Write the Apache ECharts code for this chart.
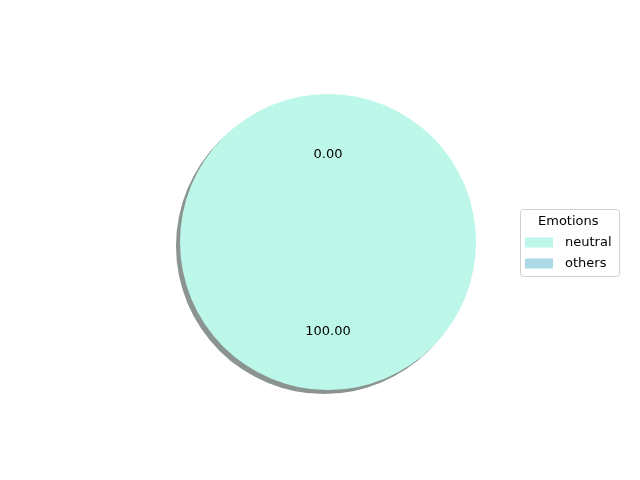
<!DOCTYPE html>
<html><head><meta charset="utf-8">
<script src="https://cdn.jsdelivr.net/npm/echarts@6/dist/echarts.min.js"></script>
<style>html,body{margin:0;padding:0;background:#fff}#c{width:640px;height:480px}</style>
</head><body><div id="c"></div>
<script>
const categories = ['neutral', 'others'];
const values = [100, 0];
const colors = ['#bdf7ea', '#add8e6'];
const legendTitle = 'Emotions';

const chart = echarts.init(document.getElementById('c'), null, {renderer: 'canvas'});
const total = values.reduce((a, b) => a + b, 0);
const data = categories.map((n, i) => ({name: n, value: values[i], itemStyle: {color: colors[i]}}));
const R = 148;
chart.setOption({
  animation: false,
  backgroundColor: '#fff',
  graphic: [
    {type: 'rect', left: 520, top: 209, z: 0, shape: {width: 99, height: 67, r: 3},
     style: {fill: '#fff', stroke: '#d0d0d0', lineWidth: 1}},
    {type: 'text', z: 1, top: 215, left: 538,
     style: {text: legendTitle, font: '13px "DejaVu Sans"', fill: '#000'}}
  ],
  legend: {
    orient: 'vertical', left: 525, top: 236, padding: 0, itemWidth: 28, itemHeight: 10, itemGap: 8,
    icon: 'rect', selectedMode: false, z: 5,
    data: categories,
    textStyle: {fontFamily: 'DejaVu Sans', fontSize: 13, color: '#000', padding: [0, 0, 0, 7]}
  },
  series: [
    {
      type: 'pie', center: [328, 242], radius: [0, R], startAngle: 90, clockwise: false,
      silent: true, label: {show: false}, labelLine: {show: false},
      itemStyle: {shadowColor: '#8c9491', shadowBlur: 0, shadowOffsetX: -4, shadowOffsetY: 4},
      data: data
    },
    {
      type: 'pie', center: [328, 243], radius: [0, R * 1.16], startAngle: 90, clockwise: false,
      silent: true, z: 3, legendHoverLink: false,
      itemStyle: {color: 'rgba(0,0,0,0)'},
      label: {show: true, position: 'inner', fontFamily: 'DejaVu Sans', fontSize: 13, color: '#000',
        formatter: p => (p.value / total * 100).toFixed(2)},
      labelLine: {show: false},
      data: categories.map((n, i) => ({name: n + ' ', value: values[i]}))
    }
  ]
});
</script></body></html>
